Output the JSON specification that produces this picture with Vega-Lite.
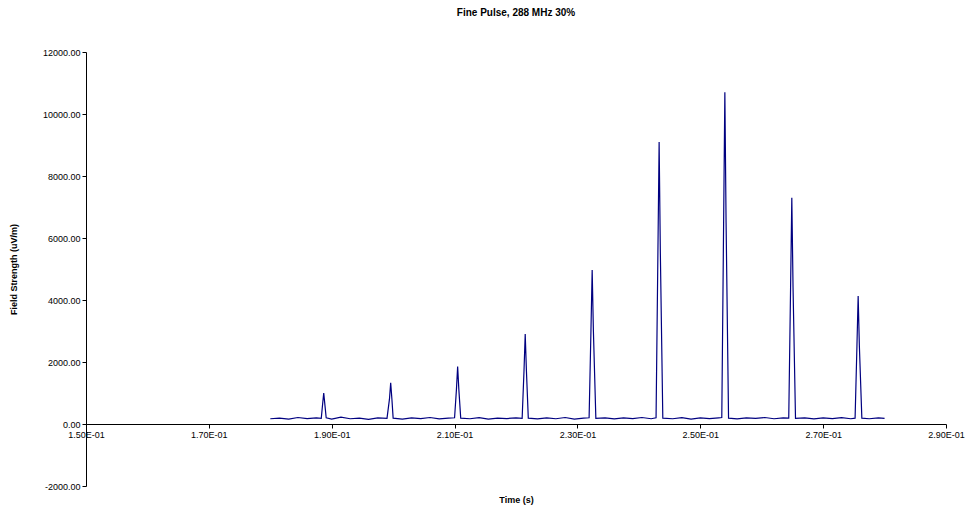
{
  "$schema": "https://vega.github.io/schema/vega-lite/v6.json",
  "width": 860,
  "height": 434,
  "autosize": "none",
  "padding": {"left": 86, "top": 52, "right": 26, "bottom": 31},
  "background": "white",
  "title": {"text": "Fine Pulse, 288 MHz 30%", "font": "Liberation Sans", "fontSize": 10, "fontWeight": "bold", "offset": 30, "color": "black"},
  "data": {"values": [
    {"t": 0.1800, "v": 170}, {"t": 0.1815, "v": 190}, {"t": 0.1830, "v": 160}, {"t": 0.1845, "v": 210}, {"t": 0.1860, "v": 175},
    {"t": 0.1875, "v": 195}, {"t": 0.1883, "v": 180}, {"t": 0.1885, "v": 600}, {"t": 0.1887, "v": 1000}, {"t": 0.1889, "v": 600}, {"t": 0.1891, "v": 200}, {"t": 0.1900, "v": 160},
    {"t": 0.1915, "v": 220}, {"t": 0.1930, "v": 170}, {"t": 0.1945, "v": 190}, {"t": 0.1960, "v": 150}, {"t": 0.1975, "v": 200},
    {"t": 0.1990, "v": 180}, {"t": 0.1994, "v": 800}, {"t": 0.1996, "v": 1330}, {"t": 0.1998, "v": 800}, {"t": 0.2000, "v": 190}, {"t": 0.2015, "v": 160}, {"t": 0.2030, "v": 200},
    {"t": 0.2045, "v": 175}, {"t": 0.2060, "v": 210}, {"t": 0.2075, "v": 165}, {"t": 0.2090, "v": 190}, {"t": 0.2100, "v": 200},
    {"t": 0.2103, "v": 1100}, {"t": 0.2105, "v": 1850}, {"t": 0.2107, "v": 1100}, {"t": 0.2110, "v": 190}, {"t": 0.2125, "v": 170}, {"t": 0.2140, "v": 205}, {"t": 0.2155, "v": 160},
    {"t": 0.2170, "v": 190}, {"t": 0.2185, "v": 175}, {"t": 0.2200, "v": 200}, {"t": 0.2210, "v": 180}, {"t": 0.2213, "v": 1700}, {"t": 0.2215, "v": 2900}, {"t": 0.2217, "v": 1700},
    {"t": 0.2220, "v": 190}, {"t": 0.2235, "v": 165}, {"t": 0.2250, "v": 200}, {"t": 0.2265, "v": 170}, {"t": 0.2280, "v": 210},
    {"t": 0.2295, "v": 160}, {"t": 0.2310, "v": 190}, {"t": 0.2319, "v": 200}, {"t": 0.2322, "v": 3000}, {"t": 0.2324, "v": 4970}, {"t": 0.2326, "v": 3000}, {"t": 0.2330, "v": 180},
    {"t": 0.2345, "v": 200}, {"t": 0.2360, "v": 165}, {"t": 0.2375, "v": 195}, {"t": 0.2390, "v": 175}, {"t": 0.2405, "v": 210},
    {"t": 0.2420, "v": 170}, {"t": 0.2428, "v": 200}, {"t": 0.2431, "v": 5500}, {"t": 0.2433, "v": 9100}, {"t": 0.2435, "v": 5500}, {"t": 0.2439, "v": 190}, {"t": 0.2455, "v": 170},
    {"t": 0.2470, "v": 205}, {"t": 0.2485, "v": 160}, {"t": 0.2500, "v": 195}, {"t": 0.2515, "v": 175}, {"t": 0.2530, "v": 200},
    {"t": 0.2535, "v": 210}, {"t": 0.2538, "v": 6500}, {"t": 0.2540, "v": 10700}, {"t": 0.2542, "v": 6500}, {"t": 0.2546, "v": 190}, {"t": 0.2560, "v": 165}, {"t": 0.2575, "v": 200},
    {"t": 0.2590, "v": 180}, {"t": 0.2605, "v": 210}, {"t": 0.2620, "v": 170}, {"t": 0.2635, "v": 195}, {"t": 0.2644, "v": 190},
    {"t": 0.2647, "v": 4400}, {"t": 0.2649, "v": 7300}, {"t": 0.2651, "v": 4400}, {"t": 0.2655, "v": 180}, {"t": 0.2670, "v": 200}, {"t": 0.2685, "v": 165}, {"t": 0.2700, "v": 195},
    {"t": 0.2715, "v": 175}, {"t": 0.2730, "v": 205}, {"t": 0.2745, "v": 170}, {"t": 0.2752, "v": 190}, {"t": 0.2755, "v": 2500}, {"t": 0.2757, "v": 4130}, {"t": 0.2759, "v": 2500},
    {"t": 0.2763, "v": 190}, {"t": 0.2775, "v": 170}, {"t": 0.2790, "v": 200}, {"t": 0.2800, "v": 180}
  ]},
  "mark": {"type": "line", "color": "#000080", "strokeWidth": 1.2},
  "encoding": {
    "x": {"field": "t", "type": "quantitative", "title": "Time (s)",
      "scale": {"domain": [0.15, 0.29], "nice": false, "zero": false},
      "axis": {"values": [0.15, 0.17, 0.19, 0.21, 0.23, 0.25, 0.27, 0.29], "labelExpr": "replace(format(datum.value, '.2e'), 'e-1', 'E-01')",
        "offset": -62, "titlePadding": 56, "grid": false, "domainColor": "black", "tickColor": "black", "labelColor": "black", "titleColor": "black",
        "labelFont": "Liberation Sans", "labelFontSize": 9, "titleFont": "Liberation Sans", "titleFontSize": 9, "titleFontWeight": "bold", "tickSize": 4, "labelFlush": false}},
    "y": {"field": "v", "type": "quantitative", "title": "Field Strength (uV/m)",
      "scale": {"domain": [-2000, 12000], "nice": false},
      "axis": {"values": [-2000, 0, 2000, 4000, 6000, 8000, 10000, 12000], "labelExpr": "datum.value < 0 ? '-' + format(-datum.value, '.2f') : format(datum.value, '.2f')", "grid": false,
        "domainColor": "black", "tickColor": "black", "labelColor": "black", "titleColor": "black",
        "labelFont": "Liberation Sans", "labelFontSize": 9, "titleFont": "Liberation Sans", "titleFontSize": 9, "titleFontWeight": "bold", "tickSize": 4, "titlePadding": 24}}
  },
  "config": {"view": {"stroke": null}}
}
